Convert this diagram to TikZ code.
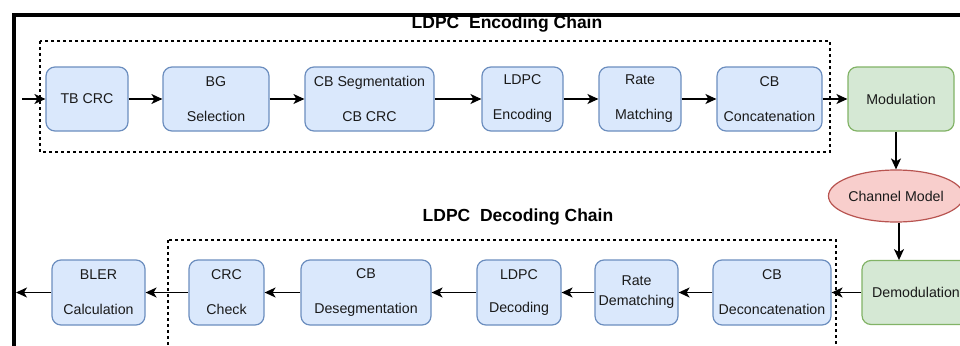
\documentclass[tikz,border=0pt]{standalone}
\usepackage{fontspec}
\setmainfont{Liberation Sans}
\usetikzlibrary{arrows.meta,shapes.geometric}
\definecolor{bfill}{HTML}{DAE8FC}
\definecolor{bdraw}{HTML}{6C8EBF}
\definecolor{gfill}{HTML}{D5E8D4}
\definecolor{gdraw}{HTML}{82B366}
\definecolor{rfill}{HTML}{F8CECC}
\definecolor{rdraw}{HTML}{B85450}
\definecolor{txt}{HTML}{1A1A1A}
\tikzset{
  blk/.style={draw=bdraw, fill=bfill, line width=1.2pt, rounded corners=9pt,
    inner sep=0pt, align=center, text=txt,
    font=\fontsize{14.2}{35}\selectfont},
  gblk/.style={blk, draw=gdraw, fill=gfill},
  chan/.style={ellipse, draw=rdraw, fill=rfill, line width=1.2pt, inner sep=0pt,
    text=txt, font=\fontsize{14.2}{17}\selectfont},
  flow/.style={line width=1.4pt, -{Stealth[length=11pt,width=10pt,inset=3pt]}},
  grp/.style={draw=black, line width=1.3pt, dash pattern=on 3pt off 3pt},
  ttl/.style={font=\bfseries\fontsize{17.5}{20}\selectfont, inner sep=0pt}
}
\begin{document}
\begin{tikzpicture}[x=1pt,y=-1pt]
\clip (0,0) rectangle (960,345);
\fill[white] (0,0) rectangle (960,345);
% outer frame
\draw[line width=4pt, line join=miter] (14,350) -- (14,15.5) -- (965,15.5);
% group boxes
\draw[grp] (40,41) rectangle (830,152);
\draw[grp] (168,240) rectangle (836,360);
\node[ttl] (enct) at (507,24.5) {LDPC\ \ Encoding Chain};
\node[ttl] (dect) at (518,217) {LDPC\ \ Decoding Chain};
% encoding row
\node[blk, minimum width=82pt, minimum height=64pt] (tbcrc) at (87,99) {TB CRC};
\node[blk, minimum width=106pt, minimum height=64pt] (bg) at (216,99) {BG\\Selection};
\node[blk, minimum width=129pt, minimum height=64pt] (cbseg) at (369.5,99) {CB Segmentation\\CB CRC};
\node[blk, minimum width=81pt, minimum height=64pt] (ldpcenc) at (522.5,99) {LDPC\\Encoding};
\node[blk, minimum width=82pt, minimum height=64pt] (rm) at (640,99) {Rate\\\ \ Matching};
\node[blk, minimum width=105pt, minimum height=64pt] (cbcat) at (769.5,99) {CB\\Concatenation};
\node[gblk, minimum width=106pt, minimum height=64pt] (mod) at (901,99) {Modulation};
\node[chan, minimum width=128pt, minimum height=52pt] (channel) at (896,196) {Channel Model};
% decoding row
\node[gblk, minimum width=108pt, minimum height=64pt] (demod) at (916,292.5) {Demodulation};
\node[blk, minimum width=118pt, minimum height=65pt] (cbdecat) at (772,292.5) {CB\\Deconcatenation};
\node[blk, minimum width=83pt, minimum height=65pt, font=\fontsize{14.2}{20}\selectfont] (rdm) at (636.5,292.5) {Rate\\Dematching};
\node[blk, minimum width=84pt, minimum height=65pt, font=\fontsize{14.2}{33}\selectfont] (ldpcdec) at (519,292.5) {LDPC\\Decoding};
\node[blk, minimum width=130pt, minimum height=65pt] (cbdes) at (366,292.5) {CB\\Desegmentation};
\node[blk, minimum width=75pt, minimum height=65pt] (crc) at (226.5,292.5) {CRC\\Check};
\node[blk, minimum width=93pt, minimum height=65pt] (bler) at (98.5,292.5) {BLER\\Calculation};
\coordinate (src) at (22,99);
\coordinate (sink) at (16,292.5);
% connectors
\draw[flow] (src) -- (tbcrc);
\draw[flow] (tbcrc) -- (bg);
\draw[flow] (bg) -- (cbseg);
\draw[flow] (cbseg) -- (ldpcenc);
\draw[flow] (ldpcenc) -- (rm);
\draw[flow] (rm) -- (cbcat);
\draw[flow] (cbcat) -- (mod);
\draw[flow] (channel.north |- mod.south) -- (channel.north);
\draw[flow] (channel.south) ++(3pt,0) -- ++(0,37.5);
\draw[flow] (demod) -- (cbdecat);
\draw[flow] (cbdecat) -- (rdm);
\draw[flow] (rdm) -- (ldpcdec);
\draw[flow] (ldpcdec) -- (cbdes);
\draw[flow] (cbdes) -- (crc);
\draw[flow] (crc) -- (bler);
\draw[flow] (bler) -- (sink);
\end{tikzpicture}
\end{document}
